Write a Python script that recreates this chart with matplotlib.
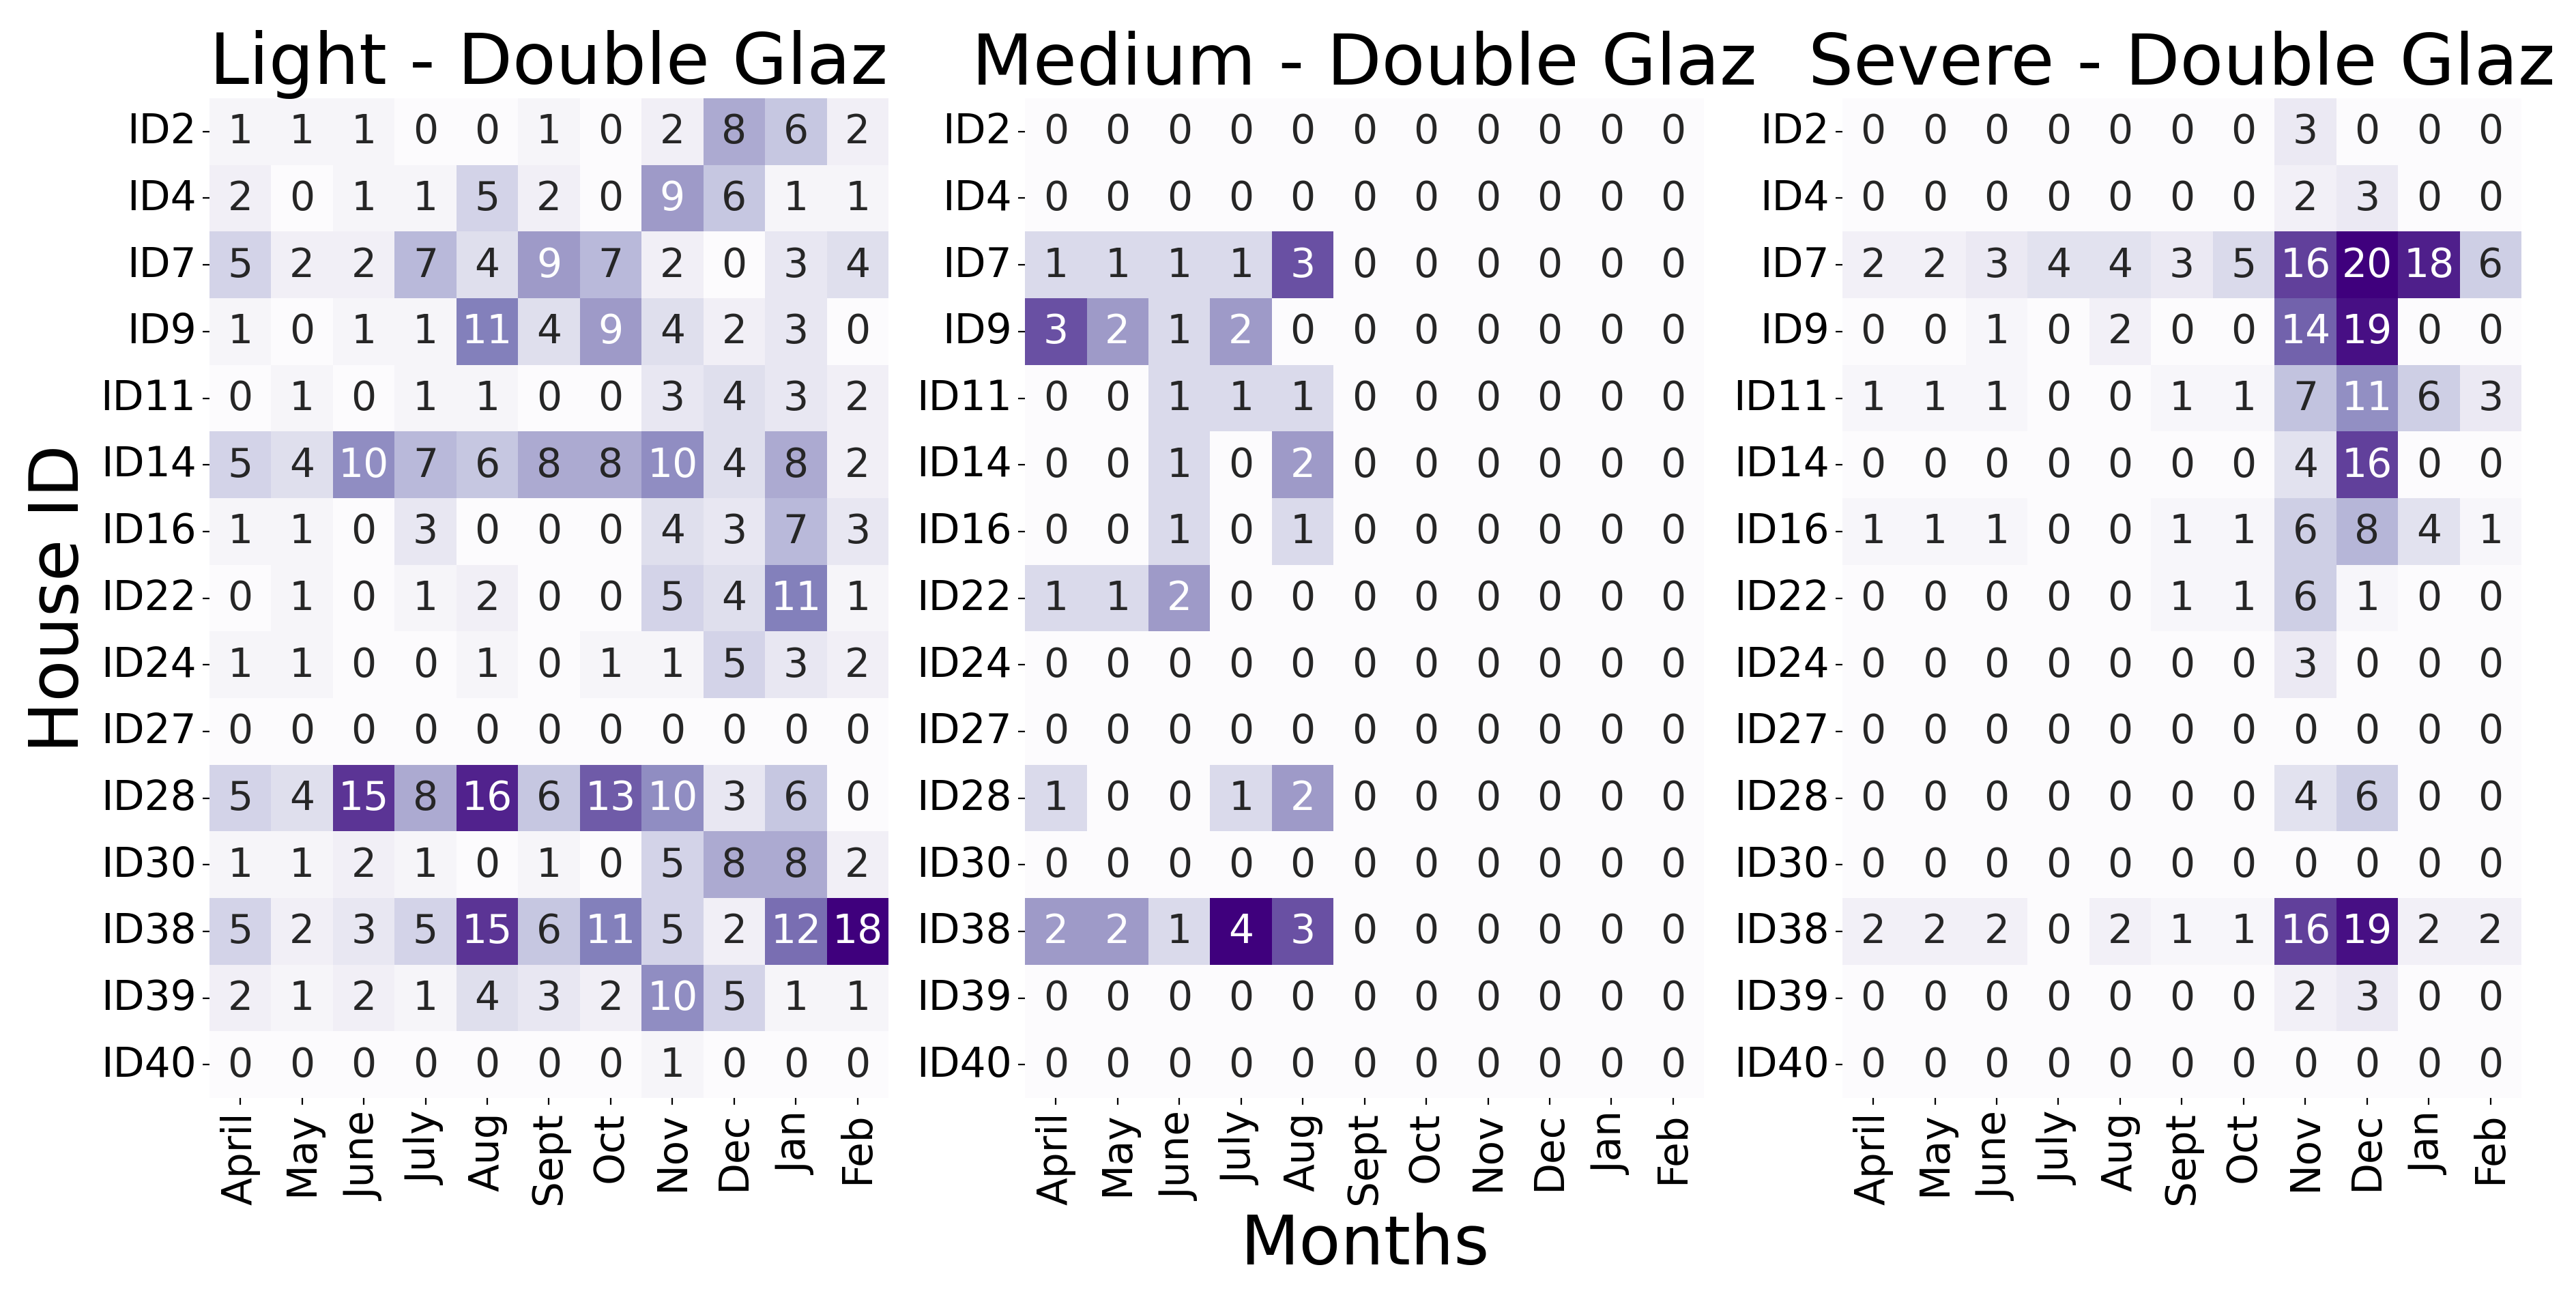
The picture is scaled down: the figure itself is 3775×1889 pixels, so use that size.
import numpy as np
import matplotlib
matplotlib.use("Agg")
import matplotlib.pyplot as plt
import seaborn as sns

months = ["April", "May", "June", "July", "Aug", "Sept", "Oct", "Nov", "Dec", "Jan", "Feb"]
house_ids = ["ID2", "ID4", "ID7", "ID9", "ID11", "ID14", "ID16", "ID22", "ID24",
             "ID27", "ID28", "ID30", "ID38", "ID39", "ID40"]

light = [
    [1, 1, 1, 0, 0, 1, 0, 2, 8, 6, 2],
    [2, 0, 1, 1, 5, 2, 0, 9, 6, 1, 1],
    [5, 2, 2, 7, 4, 9, 7, 2, 0, 3, 4],
    [1, 0, 1, 1, 11, 4, 9, 4, 2, 3, 0],
    [0, 1, 0, 1, 1, 0, 0, 3, 4, 3, 2],
    [5, 4, 10, 7, 6, 8, 8, 10, 4, 8, 2],
    [1, 1, 0, 3, 0, 0, 0, 4, 3, 7, 3],
    [0, 1, 0, 1, 2, 0, 0, 5, 4, 11, 1],
    [1, 1, 0, 0, 1, 0, 1, 1, 5, 3, 2],
    [0, 0, 0, 0, 0, 0, 0, 0, 0, 0, 0],
    [5, 4, 15, 8, 16, 6, 13, 10, 3, 6, 0],
    [1, 1, 2, 1, 0, 1, 0, 5, 8, 8, 2],
    [5, 2, 3, 5, 15, 6, 11, 5, 2, 12, 18],
    [2, 1, 2, 1, 4, 3, 2, 10, 5, 1, 1],
    [0, 0, 0, 0, 0, 0, 0, 1, 0, 0, 0],
]

medium = [
    [0, 0, 0, 0, 0, 0, 0, 0, 0, 0, 0],
    [0, 0, 0, 0, 0, 0, 0, 0, 0, 0, 0],
    [1, 1, 1, 1, 3, 0, 0, 0, 0, 0, 0],
    [3, 2, 1, 2, 0, 0, 0, 0, 0, 0, 0],
    [0, 0, 1, 1, 1, 0, 0, 0, 0, 0, 0],
    [0, 0, 1, 0, 2, 0, 0, 0, 0, 0, 0],
    [0, 0, 1, 0, 1, 0, 0, 0, 0, 0, 0],
    [1, 1, 2, 0, 0, 0, 0, 0, 0, 0, 0],
    [0, 0, 0, 0, 0, 0, 0, 0, 0, 0, 0],
    [0, 0, 0, 0, 0, 0, 0, 0, 0, 0, 0],
    [1, 0, 0, 1, 2, 0, 0, 0, 0, 0, 0],
    [0, 0, 0, 0, 0, 0, 0, 0, 0, 0, 0],
    [2, 2, 1, 4, 3, 0, 0, 0, 0, 0, 0],
    [0, 0, 0, 0, 0, 0, 0, 0, 0, 0, 0],
    [0, 0, 0, 0, 0, 0, 0, 0, 0, 0, 0],
]

severe = [
    [0, 0, 0, 0, 0, 0, 0, 3, 0, 0, 0],
    [0, 0, 0, 0, 0, 0, 0, 2, 3, 0, 0],
    [2, 2, 3, 4, 4, 3, 5, 16, 20, 18, 6],
    [0, 0, 1, 0, 2, 0, 0, 14, 19, 0, 0],
    [1, 1, 1, 0, 0, 1, 1, 7, 11, 6, 3],
    [0, 0, 0, 0, 0, 0, 0, 4, 16, 0, 0],
    [1, 1, 1, 0, 0, 1, 1, 6, 8, 4, 1],
    [0, 0, 0, 0, 0, 1, 1, 6, 1, 0, 0],
    [0, 0, 0, 0, 0, 0, 0, 3, 0, 0, 0],
    [0, 0, 0, 0, 0, 0, 0, 0, 0, 0, 0],
    [0, 0, 0, 0, 0, 0, 0, 4, 6, 0, 0],
    [0, 0, 0, 0, 0, 0, 0, 0, 0, 0, 0],
    [2, 2, 2, 0, 2, 1, 1, 16, 19, 2, 2],
    [0, 0, 0, 0, 0, 0, 0, 2, 3, 0, 0],
    [0, 0, 0, 0, 0, 0, 0, 0, 0, 0, 0],
]

titles = ["Light - Double Glaz", "Medium - Double Glaz", "Severe - Double Glaz"]

plt.rcParams['font.family'] = ['DejaVu Sans']

fig = plt.figure(figsize=(18.875, 9.45), dpi=200)
lefts = [0.0813, 0.3979, 0.7152]
width = 0.2636
bottom = 0.1481
height = 0.7752

for i, (data, title) in enumerate(zip([light, medium, severe], titles)):
    ax = fig.add_axes([lefts[i], bottom, width, height])
    sns.heatmap(np.array(data), ax=ax, cmap="Purples", annot=True, fmt="d",
                cbar=False, annot_kws={"fontsize": 21},
                xticklabels=months, yticklabels=house_ids)
    ax.set_title(title, fontsize=37.5, pad=6)
    ax.tick_params(axis='both', labelsize=21.5)
    ax.set_yticklabels(house_ids, rotation=0)
    ax.set_xticklabels(months, rotation=90)
    if i == 0:
        ax.set_ylabel("House ID", fontsize=36)
    if i == 1:
        ax.set_xlabel("Months", fontsize=36)

fig.savefig("out.png", dpi=200)
